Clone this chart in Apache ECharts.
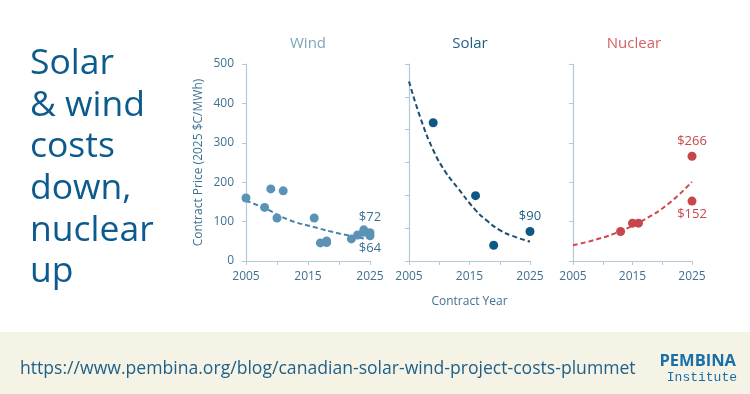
<!DOCTYPE html>
<html><head><meta charset="utf-8">
<script src="https://cdn.jsdelivr.net/npm/echarts@6/dist/echarts.min.js"></script>
<style>html,body{margin:0;padding:0;background:#fff}#c{width:750px;height:394px}</style>
</head><body><div id="c"></div>
<script>
// ---- data ----
const panelTitles = ['Wind', 'Solar', 'Nuclear'];
const xTickLabels = [2005, 2015, 2025];
const windYears  = [2005, 2008, 2009, 2010, 2011, 2016, 2017, 2018, 2018, 2022, 2023, 2024, 2024, 2025, 2025];
const windPrices = [160, 136, 183, 109, 178, 109, 46, 47, 51, 56, 66, 79, 73, 72, 64];
const windTrendYears  = [2005, 2008, 2012, 2016, 2020, 2024];
const windTrendPrices = [153, 134, 104, 86, 70, 57];
const solarYears  = [2009, 2016, 2019, 2025];
const solarPrices = [421, 199, 48, 90];
const solarTrendYears  = [2005, 2007, 2009, 2011, 2013, 2016, 2018, 2020, 2022, 2025];
const solarTrendPrices = [547, 430, 338, 272, 224, 155, 121, 94, 77, 59];
const nuclearYears  = [2013, 2015, 2016, 2025, 2025];
const nuclearPrices = [75, 96, 96, 266, 152];
const nuclearTrendYears  = [2005, 2009, 2013, 2017, 2021, 2025];
const nuclearTrendPrices = [40, 55, 76, 105, 145, 201];
const labelled = [
  {panel: 0, year: 2025, value: 72, text: '$72', pos: 'top'},
  {panel: 0, year: 2025, value: 64, text: '$64', pos: 'bottom'},
  {panel: 1, year: 2025, value: 90, text: '$90', pos: 'top'},
  {panel: 2, year: 2025, value: 266, text: '$266', pos: 'top'},
  {panel: 2, year: 2025, value: 152, text: '$152', pos: 'bottom'}
];

// ---- styles ----
const FONT = '"Open Sans", "Noto Sans", sans-serif';
const axisCol = '#b3c9d6';
const tickCol = '#3f7193';
const titleCols = ['#7fa5bc', '#1e5f86', '#d46165'];
const dotCols = ['#5b93b7', '#0e5886', '#c7464b'];
const trendCols = ['#4683a6', '#1a4f70', '#d0474c'];
const yMax = [500, 600, 500];
const grids = [
  {left: 246, top: 64, width: 124, height: 197},
  {left: 409, top: 64, width: 121, height: 197},
  {left: 573, top: 64, width: 119, height: 197}
];

const pts = [[windYears, windPrices], [solarYears, solarPrices], [nuclearYears, nuclearPrices]];
const trends = [[windTrendYears, windTrendPrices], [solarTrendYears, solarTrendPrices], [nuclearTrendYears, nuclearTrendPrices]];

const xAxes = grids.map((g, i) => ({
  gridIndex: i, type: 'value', min: 2005, max: 2025, interval: 5,
  axisLine: {lineStyle: {color: axisCol, width: 1.2}},
  axisTick: {show: true, length: 4, lineStyle: {color: axisCol}},
  splitLine: {show: false},
  axisLabel: {color: tickCol, fontFamily: FONT, fontSize: 12, margin: 10,
    formatter: v => xTickLabels.includes(v) ? String(v) : ''},
  name: i === 1 ? 'Contract Year' : '', nameLocation: 'middle', nameGap: 35,
  nameTextStyle: {color: tickCol, fontFamily: FONT, fontSize: 12}
}));
const yAxes = grids.map((g, i) => ({
  gridIndex: i, type: 'value', min: 0, max: yMax[i], interval: 100,
  axisLine: {show: true, lineStyle: {color: axisCol, width: 1.2}},
  axisTick: {show: true, length: 4, lineStyle: {color: axisCol}},
  splitLine: {show: false},
  axisLabel: {show: i === 0, color: tickCol, fontFamily: FONT, fontSize: 12, margin: 12},
  name: i === 0 ? 'Contract Price (2025 $C/MWh)' : '', nameLocation: 'middle', nameGap: 41,
  nameTextStyle: {color: tickCol, fontFamily: FONT, fontSize: 12}
}));

const series = [];
for (let i = 0; i < 3; i++) {
  series.push({
    type: 'line', xAxisIndex: i, yAxisIndex: i, smooth: 0.5, showSymbol: false, symbol: 'none',
    data: trends[i][0].map((x, k) => [x, trends[i][1][k]]),
    lineStyle: {color: trendCols[i], width: 2, type: [5, 3]}, z: 1, silent: true
  });
  series.push({
    type: 'scatter', xAxisIndex: i, yAxisIndex: i, symbolSize: 9,
    itemStyle: {color: dotCols[i], opacity: 1},
    data: pts[i][0].map((x, k) => {
      const y = pts[i][1][k];
      const lab = labelled.find(l => l.panel === i && l.year === x && l.value === y);
      const d = {value: [x, y]};
      if (lab) d.label = {show: true, formatter: lab.text, position: lab.pos, distance: lab.pos === 'top' ? 4 : 2,
        color: lab.panel === 2 ? '#c7464b' : (lab.panel === 1 ? '#1e5f86' : '#3f7193'), fontFamily: FONT, fontSize: 13};
      return d;
    }), z: 3
  });
}

const titleX = [308, 470, 634];
const chart = echarts.init(document.getElementById('c'), null, {renderer: 'canvas'});
chart.setOption({
  animation: false,
  backgroundColor: '#ffffff',
  grid: grids,
  xAxis: xAxes,
  yAxis: yAxes,
  series: series,
  graphic: [
    ...panelTitles.map((t, i) => ({type: 'text', x: titleX[i], y: 44,
      style: {text: t, fill: titleCols[i], font: '15px ' + FONT, textAlign: 'center', textVerticalAlign: 'middle'}})),
    {type: 'text', left: 30, top: 43,
      style: {text: 'Solar\n& wind\ncosts\ndown,\nnuclear\nup', fill: '#0c5b8c', font: '500 35.5px ' + FONT, lineHeight: 41.7}},
    {type: 'rect', shape: {x: 0, y: 332, width: 750, height: 62}, style: {fill: '#f4f3e6'}, z: -1},
    {type: 'text', x: 20, y: 368.5,
      style: {text: 'https://www.pembina.org/blog/canadian-solar-wind-project-costs-plummet', fill: '#1f5f88',
        font: '17.6px ' + FONT, textVerticalAlign: 'middle'}},
    {type: 'text', x: 736, y: 361,
      style: {text: 'PEMBINA', fill: '#1a6ea7', font: 'bold 16.5px ' + FONT, textAlign: 'right', textVerticalAlign: 'middle'}},
    {type: 'text', x: 737, y: 378,
      style: {text: 'Institute', fill: '#1a6ea7', font: '13px "Liberation Mono", monospace', textAlign: 'right', textVerticalAlign: 'middle'}}
  ]
});
</script></body></html>
